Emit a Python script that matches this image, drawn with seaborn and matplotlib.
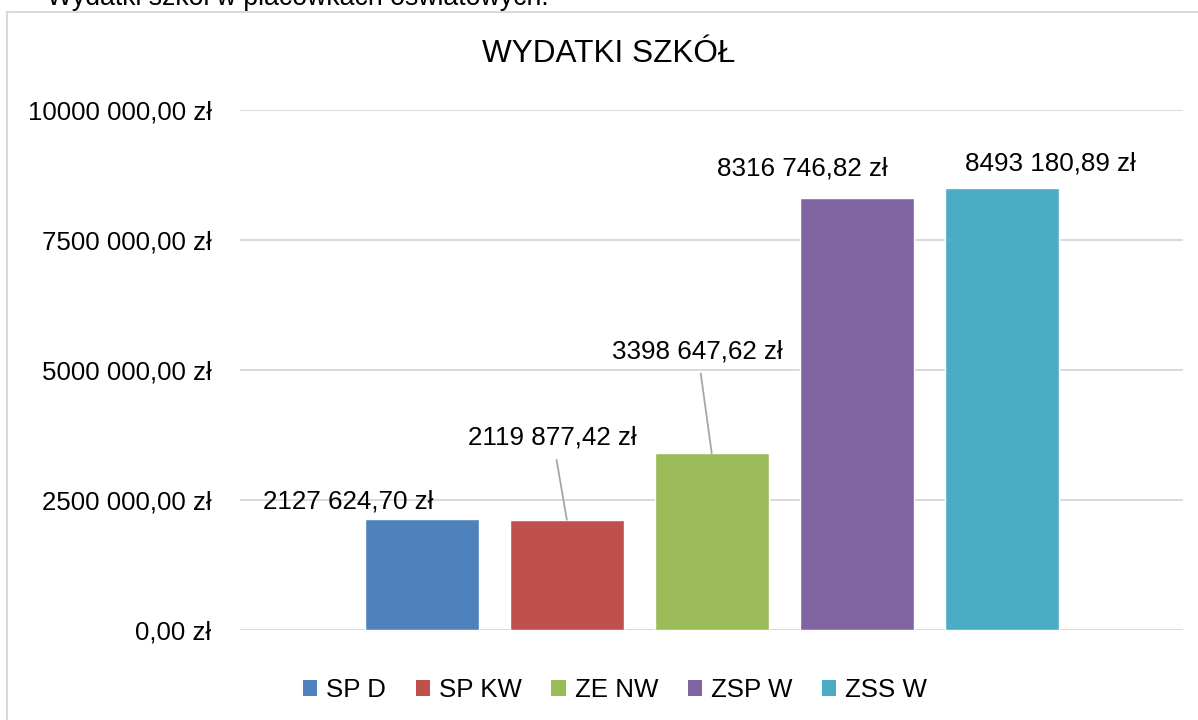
import matplotlib
matplotlib.use('Agg')
import matplotlib.pyplot as plt
import seaborn as sns
import pandas as pd
from matplotlib.patches import Patch
from matplotlib.lines import Line2D

# dane z wykresu
schools = ['SP D', 'SP KW', 'ZE NW', 'ZSP W', 'ZSS W']
expenses = [2127624.70, 2119877.42, 3398647.62, 8316746.82, 8493180.89]
colors = ['#4F81BD', '#C0504D', '#9BBB59', '#8064A2', '#4BACC6']
yticks = [0, 2500000, 5000000, 7500000, 10000000]

# przesuniecia etykiet (piksele) i czy jest linia odniesienia
label_offsets = [(-74, 18), (-14, 82), (-14, 102), (-54, 29), (49, 25)]
leader = [False, True, True, False, False]


def pln(v):
    grosze = int(round(v * 100))
    i, gr = grosze // 100, grosze % 100
    if i >= 1000:
        return '{} {:03d},{:02d} zł'.format(i // 1000, i % 1000, gr)
    return '{},{:02d} zł'.format(i, gr)


df = pd.DataFrame({'school': schools, 'expense': expenses})

sns.set_style('white')
plt.rcParams['font.family'] = ['Liberation Sans', 'DejaVu Sans']
plt.rcParams['text.color'] = 'black'
plt.rcParams['ytick.color'] = 'black'

W, H = 1198, 720
fig = plt.figure(figsize=(W / 100, H / 100), dpi=100)

# ramka wykresu (Excel)
fig.add_artist(Line2D([7 / W, 7 / W], [0, 1 - 12 / H], color='#D9D9D9', lw=1.5))
fig.add_artist(Line2D([7 / W, 1], [1 - 12 / H, 1 - 12 / H], color='#D9D9D9', lw=1.5))

# podpis nad wykresem (uciety u gory)
fig.text(47 / W, 1 - 5 / H, 'Wydatki szkół w placówkach oświatowych.',
         fontsize=19.2, va='baseline', ha='left')

ax = fig.add_axes([240 / W, 1 - 630 / H, 943 / W, 520 / H])
sns.barplot(data=df, x='school', y='expense', hue='school', palette=colors,
            saturation=1, width=0.786, legend=False, ax=ax)

ax.set_xlim(-1.255, 5.252)
ax.set_ylim(0, 10000000)
ax.set_yticks(yticks)
ax.set_yticklabels([pln(t) for t in yticks], fontsize=18.6)
ax.set_xticks([])
ax.set_xlabel('')
ax.set_ylabel('')
ax.tick_params(axis='y', length=0, pad=20.5)
ax.grid(axis='y', color='#D9D9D9', lw=1.4)
ax.set_axisbelow(True)
for s in ax.spines.values():
    s.set_visible(False)

for i, v in enumerate(expenses):
    dx, dy = label_offsets[i]
    arrow = None
    if leader[i]:
        arrow = dict(arrowstyle='-', color='#A6A6A6', lw=1.3, shrinkA=5, shrinkB=0)
    ax.annotate(pln(v), xy=(i, v), xytext=(dx, dy), textcoords='offset pixels',
                ha='center', va='center', fontsize=18.7, arrowprops=arrow)

fig.text(609 / W, 1 - 54 / H, 'WYDATKI SZKÓŁ', fontsize=22.7, ha='center', va='center')

handles = [Patch(facecolor=c, edgecolor='none') for c in colors]
fig.legend(handles, schools, loc='center', bbox_to_anchor=(615 / W, 1 - 690 / H),
           ncol=5, frameon=False, fontsize=18.6, handlelength=0.55, handleheight=0.55,
           handletextpad=0.35, columnspacing=1.15, borderpad=0, borderaxespad=0)

fig.savefig('out.png', dpi=100, facecolor='white')
